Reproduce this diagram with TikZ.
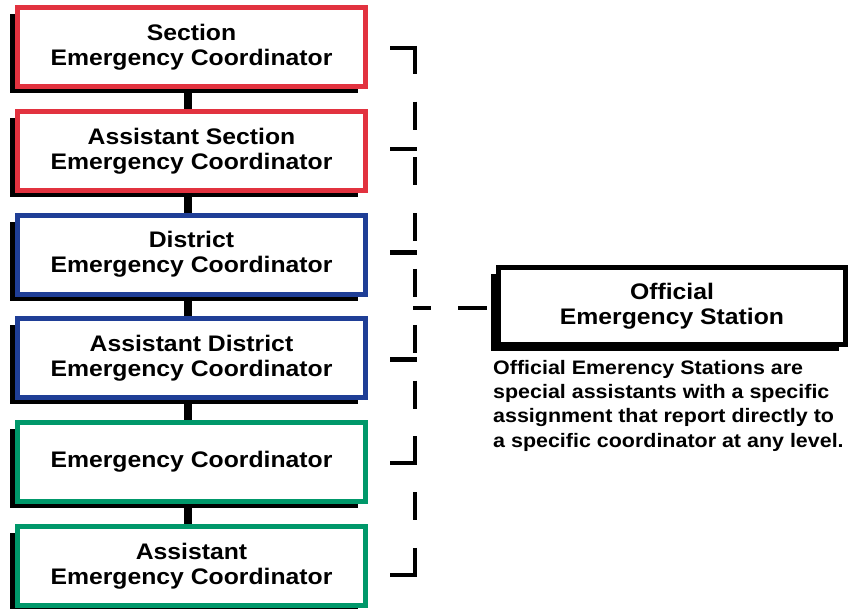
\documentclass[tikz,border=0pt]{standalone}
\usepackage{fontspec}
\usepackage{xcolor}
\usepackage{tikz}
\usetikzlibrary{positioning,shadows}

\newfontfamily\diagfont{Liberation Sans Bold}[FakeStretch=1.1]
\definecolor{secred}{HTML}{E2323F}
\definecolor{disblue}{HTML}{1F3E96}
\definecolor{ecgreen}{HTML}{00986A}

\begin{document}
\begin{tikzpicture}
    [
    x=1pt, y=1pt,
    node distance = 19.8pt,
    box/.style = {draw=#1, fill=white, line width=5pt, minimum width=348pt, minimum height=79pt, align=center, inner sep=2pt, font=\fontsize{22.5}{25}\selectfont\diagfont, drop shadow={shadow xshift=-7.5pt, shadow yshift=-6.5pt, fill=black, opacity=1}},
    oesbox/.style = {box=black, minimum width=347pt, minimum height=77pt, drop shadow={shadow xshift=-6.5pt, shadow yshift=-6.5pt, fill=black, opacity=1}},
    note/.style = {align=left, inner sep=0pt, font=\fontsize{19.5}{24.3}\selectfont\diagfont},
    link/.style = {line width=8pt},
    stub/.style = {line width=4.5pt},
    bus/.style = {line width=4.5pt, dash pattern=on 28pt off 27.8pt},
    oeslink/.style = {line width=4.5pt, dash pattern=on 18pt off 27pt on 29pt off 20pt}
    ]
    \useasboundingbox (0,0) rectangle (850,-608);

% Nodes
    \node[box=secred] (sec) at (191.5,-47) {Section\\Emergency Coordinator};
    \node[box=secred, below=of sec] (asec) {Assistant Section\\Emergency Coordinator};
    \node[box=disblue, below=of asec] (dec) {District\\Emergency Coordinator};
    \node[box=disblue, below=of dec] (adec) {Assistant District\\Emergency Coordinator};
    \node[box=ecgreen, below=of adec] (ec) {Emergency Coordinator};
    \node[box=ecgreen, below=of ec] (aec) {Assistant\\Emergency Coordinator};
    \node[oesbox] (oes) at (672,-306) {Official\\Emergency Station};
    \node[note, below right=13pt and -3pt of oes.south west] (oesnote) {Official Emerency Stations are\\special assistants with a specific\\assignment that report directly to\\a specific coordinator at any level.};

% Coordinates
    \coordinate (bustop) at (415,-45.75);
    \coordinate (busbot) at (415,-578.25);
    \coordinate (oesjoin) at (413,-308);

% Arrows
    \draw[link] ([xshift=-3.5pt]sec.south) -- ([xshift=-3.5pt]asec.north);
    \draw[link] ([xshift=-3.5pt]asec.south) -- ([xshift=-3.5pt]dec.north);
    \draw[link] ([xshift=-3.5pt]dec.south) -- ([xshift=-3.5pt]adec.north);
    \draw[link] ([xshift=-3.5pt]adec.south) -- ([xshift=-3.5pt]ec.north);
    \draw[link] ([xshift=-3.5pt]ec.south) -- ([xshift=-3.5pt]aec.north);

% Dashed report line
    \draw[bus] (bustop) -- (busbot);
    \draw[stub] ([xshift=22pt,yshift=-1pt]sec.east) -- ([xshift=2.25pt,yshift=-1pt]sec.east -| bustop);
    \draw[stub] ([xshift=22pt,yshift=2pt]asec.east) -- ([xshift=2.25pt,yshift=2pt]asec.east -| bustop);
    \draw[stub] ([xshift=22pt,yshift=2pt]dec.east) -- ([xshift=2.25pt,yshift=2pt]dec.east -| bustop);
    \draw[stub] ([xshift=22pt,yshift=-1pt]adec.east) -- ([xshift=2.25pt,yshift=-1pt]adec.east -| bustop);
    \draw[stub] ([xshift=22pt,yshift=-1pt]ec.east) -- ([xshift=2.25pt,yshift=-1pt]ec.east -| bustop);
    \draw[stub] ([xshift=22pt,yshift=-9pt]aec.east) -- ([xshift=2.25pt,yshift=-9pt]aec.east -| bustop);
    \draw[oeslink] (oesjoin) -- (oesjoin -| oes.west);

\end{tikzpicture}
\end{document}
